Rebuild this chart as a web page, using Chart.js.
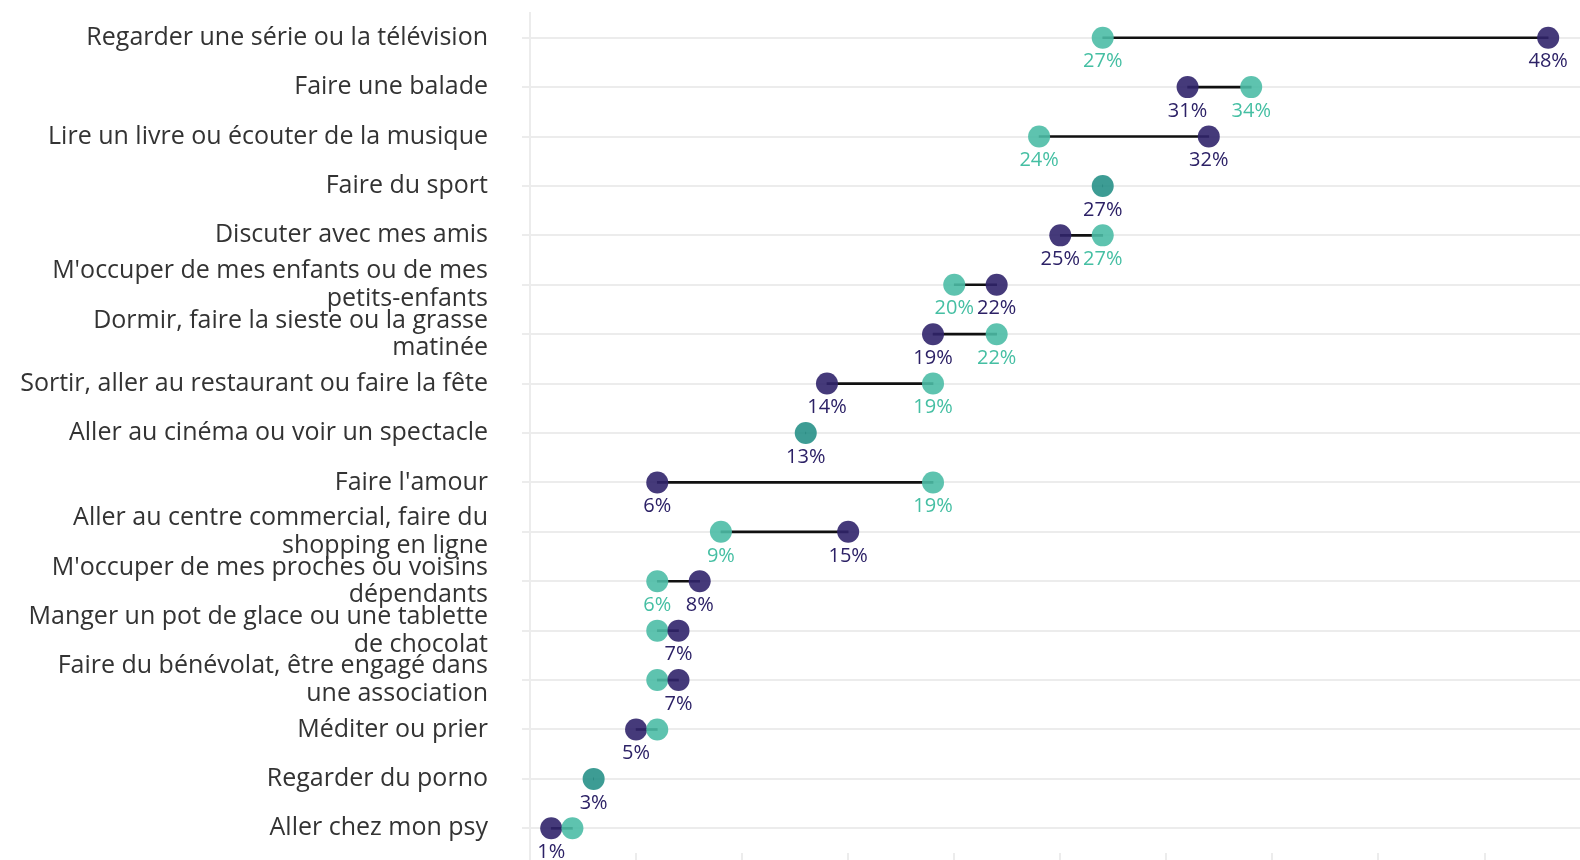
<!DOCTYPE html>
<html>
<head>
<meta charset="utf-8">
<script src="https://cdn.jsdelivr.net/npm/chart.js@4.4.1/dist/chart.umd.min.js"></script>
<style>
  html, body { margin: 0; padding: 0; background: #fff; overflow: hidden; }
  #wrap { width: 1580px; height: 860px; }
</style>
</head>
<body>
<div id="wrap"><canvas id="chart" width="1580" height="860"></canvas></div>
<script>
// Activités (libellés sur plusieurs lignes comme dans l'original)
const categories = [
    ['Regarder une série ou la télévision'],
    ['Faire une balade'],
    ['Lire un livre ou écouter de la musique'],
    ['Faire du sport'],
    ['Discuter avec mes amis'],
    ["M'occuper de mes enfants ou de mes", 'petits-enfants'],
    ['Dormir, faire la sieste ou la grasse', 'matinée'],
    ['Sortir, aller au restaurant ou faire la fête'],
    ['Aller au cinéma ou voir un spectacle'],
    ["Faire l'amour"],
    ['Aller au centre commercial, faire du', 'shopping en ligne'],
    ["M'occuper de mes proches ou voisins", 'dépendants'],
    ['Manger un pot de glace ou une tablette', 'de chocolat'],
    ['Faire du bénévolat, être engagé dans', 'une association'],
    ['Méditer ou prier'],
    ['Regarder du porno'],
    ['Aller chez mon psy']
];

// série violette et série verte (en %)
const purpleValues = [48, 31, 32, 27, 25, 22, 19, 14, 13, 6, 15, 8, 7, 7, 5, 3, 1];
const tealValues   = [27, 34, 24, 27, 27, 20, 22, 19, 13, 19, 9, 6, 6, 6, 6, 3, 2];

// axis is cut just before 50 % in the original picture
const xTicks = [0, 5, 10, 15, 20, 25, 30, 35, 40, 45];
const X_MAX = 49.5;

const PURPLE = 'rgba(49, 37, 107, 0.9)';
const TEAL = 'rgba(76, 189, 166, 0.9)';
const SAME = 'rgba(40, 145, 136, 0.9)';
const PURPLE_TEXT = '#2c2166';
const TEAL_TEXT = '#45bfa3';
const FONT = "'Open Sans'";

// the higher value is drawn on top, like in the original
const lowVals = [], highVals = [], lowColors = [], highColors = [], lowRadius = [];
purpleValues.forEach((p, i) => {
    const t = tealValues[i];
    if (p === t) {
        lowVals.push(p); highVals.push(t);
        lowColors.push(SAME); highColors.push(SAME); lowRadius.push(0);
    } else if (p < t) {
        lowVals.push(p); highVals.push(t);
        lowColors.push(PURPLE); highColors.push(TEAL); lowRadius.push(11);
    } else {
        lowVals.push(t); highVals.push(p);
        lowColors.push(TEAL); highColors.push(PURPLE); lowRadius.push(11);
    }
});

const valueLabels = {
    id: 'valueLabels',
    afterDatasetsDraw(chart) {
        const { ctx, scales: { x, y } } = chart;
        ctx.save();
        ctx.font = '20px ' + FONT;
        ctx.textAlign = 'center';
        ctx.textBaseline = 'middle';
        categories.forEach((c, i) => {
            const p = purpleValues[i], t = tealValues[i];
            const yy = y.getPixelForValue(i) + 24;
            ctx.fillStyle = PURPLE_TEXT;
            ctx.fillText(p + '%', x.getPixelForValue(p), yy);
            // the green label is hidden when the two dots touch
            if (Math.abs(p - t) > 1) {
                ctx.fillStyle = TEAL_TEXT;
                ctx.fillText(t + '%', x.getPixelForValue(t), yy);
            }
        });
        ctx.restore();
    }
};

new Chart(document.getElementById('chart'), {
    type: 'bar',
    data: {
        labels: categories,
        datasets: [
            {
                label: 'écart',
                data: lowVals.map((v, i) => [v, highVals[i]]),
                backgroundColor: '#111111',
                barThickness: 2,
                order: 3
            },
            {
                type: 'line',
                label: 'bas',
                data: lowVals,
                showLine: false,
                pointRadius: lowRadius,
                pointHoverRadius: lowRadius,
                pointBorderWidth: 0,
                pointBackgroundColor: lowColors,
                clip: false,
                order: 2
            },
            {
                type: 'line',
                label: 'haut',
                data: highVals,
                showLine: false,
                pointRadius: 11,
                pointHoverRadius: 11,
                pointBorderWidth: 0,
                pointBackgroundColor: highColors,
                clip: false,
                order: 1
            }
        ]
    },
    options: {
        indexAxis: 'y',
        responsive: false,
        devicePixelRatio: 1,
        animation: false,
        layout: { autoPadding: false, padding: { top: 13, right: 0, bottom: -1, left: 0 } },
        plugins: {
            legend: { display: false },
            tooltip: { enabled: false }
        },
        scales: {
            x: {
                type: 'linear',
                min: 0,
                max: X_MAX,
                afterBuildTicks: function(scale) {
                    scale.ticks = xTicks.map(v => ({ value: v }));
                },
                ticks: { display: false },
                grid: {
                    drawOnChartArea: false,
                    drawTicks: true,
                    tickLength: 8,
                    color: '#ececec',
                    lineWidth: 2
                },
                border: { display: false }
            },
            y: {
                offset: true,
                afterFit: function(scale) {
                    scale.width = 530;
                    scale.paddingTop = 0;
                    scale.paddingBottom = 0;
                },
                ticks: {
                    autoSkip: false,
                    color: '#333333',
                    padding: 34,
                    font: { family: FONT, size: 25, lineHeight: 1.1 }
                },
                grid: {
                    offset: false,
                    color: '#ececec',
                    lineWidth: 2,
                    tickLength: 8
                },
                border: { display: true, color: '#ececec', width: 2 }
            }
        }
    },
    plugins: [valueLabels]
});
</script>
</body>
</html>
